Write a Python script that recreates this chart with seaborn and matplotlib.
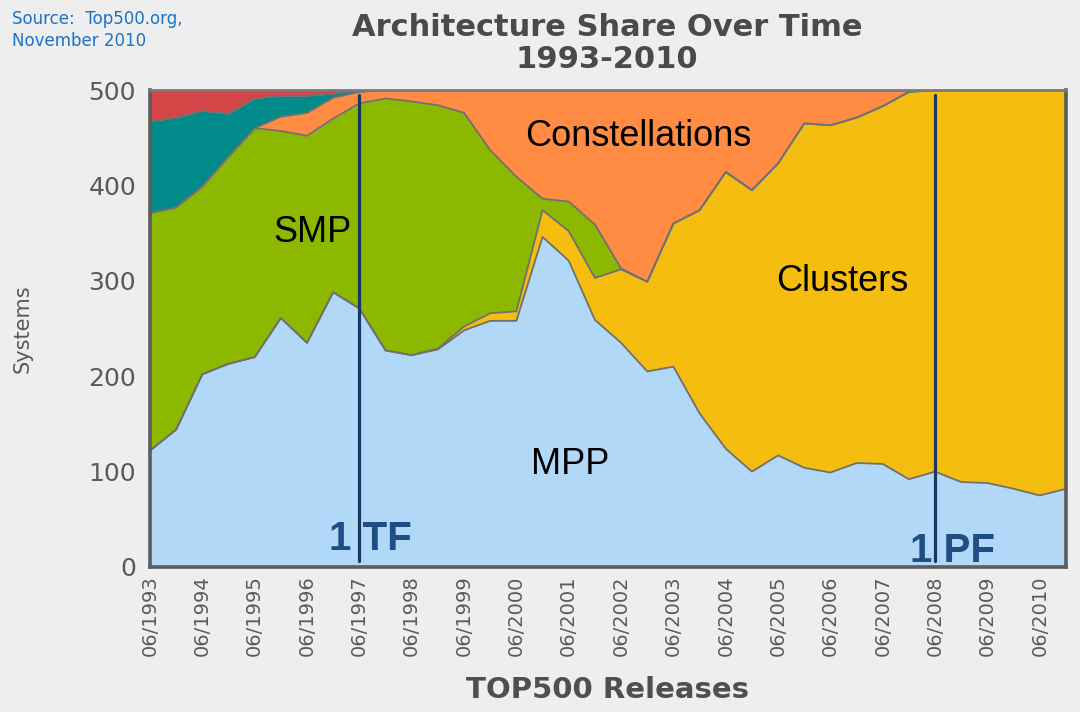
import numpy as np
import pandas as pd
import matplotlib
matplotlib.use("Agg")
import matplotlib.pyplot as plt
import seaborn as sns

# ---- data (TOP500 releases, June & November 1993-2010) ----
releases = ["06/1993", "11/1993", "06/1994", "11/1994", "06/1995", "11/1995",
            "06/1996", "11/1996", "06/1997", "11/1997", "06/1998", "11/1998",
            "06/1999", "11/1999", "06/2000", "11/2000", "06/2001", "11/2001",
            "06/2002", "11/2002", "06/2003", "11/2003", "06/2004", "11/2004",
            "06/2005", "11/2005", "06/2006", "11/2006", "06/2007", "11/2007",
            "06/2008", "11/2008", "06/2009", "11/2009", "06/2010", "11/2010"]
tick_labels = ["06/1993", "06/1994", "06/1995", "06/1996", "06/1997", "06/1998",
               "06/1999", "06/2000", "06/2001", "06/2002", "06/2003", "06/2004",
               "06/2005", "06/2006", "06/2007", "06/2008", "06/2009", "06/2010"]

mpp = [122, 144, 202, 213, 220, 261, 235, 288, 271, 227, 222, 228, 248, 258, 258, 346,
       321, 259, 235, 205, 210, 161, 124, 100, 117, 104, 99, 109, 108, 92, 100, 89,
       88, 82, 75, 82]
clusters = [0, 0, 0, 0, 0, 0, 0, 0, 0, 0, 0, 1, 4, 8, 10, 28,
            31, 44, 77, 94, 150, 213, 290, 295, 306, 361, 364, 362, 375, 406, 400, 411,
            412, 418, 425, 418]
smp = [249, 233, 197, 217, 240, 196, 217, 182, 215, 264, 266, 255, 224, 171, 141, 12,
       31, 56, 1, 0, 0, 0, 0, 0, 0, 0, 0, 0, 0, 0, 0, 0,
       0, 0, 0, 0]
constellations = [0, 0, 0, 0, 0, 15, 24, 22, 12, 9, 12, 16, 24, 63, 91, 114,
                  117, 141, 187, 201, 140, 126, 86, 105, 77, 35, 37, 29, 17, 2, 0, 0,
                  0, 0, 0, 0]
simd = [96, 94, 79, 45, 31, 22, 18, 4, 2, 0, 0, 0, 0, 0, 0, 0,
        0, 0, 0, 0, 0, 0, 0, 0, 0, 0, 0, 0, 0, 0, 0, 0,
        0, 0, 0, 0]
single_proc = [33, 29, 22, 25, 9, 6, 6, 4, 0, 0, 0, 0, 0, 0, 0, 0,
               0, 0, 0, 0, 0, 0, 0, 0, 0, 0, 0, 0, 0, 0, 0, 0,
               0, 0, 0, 0]

series_names = ["MPP", "Clusters", "SMP", "Constellations", "SIMD", "Single Processor"]
series_colors = ["#B1D8F6", "#F5BD10", "#8DB800", "#FF8C42", "#008A8A", "#D54548"]
milestones = {"1 TF": "06/1997", "1 PF": "06/2008"}

# ---- build frame ----
df = pd.DataFrame({"release": releases, "MPP": mpp, "Clusters": clusters, "SMP": smp,
                   "Constellations": constellations, "SIMD": simd,
                   "Single Processor": single_proc})
df["idx"] = np.arange(len(df))
cum = df[series_names].cumsum(axis=1)
cum["idx"] = df["idx"]
long = cum.melt(id_vars="idx", var_name="arch", value_name="top")

sns.set_theme(style="white")
plt.rcParams["font.family"] = ["DejaVu Sans"]

fig = plt.figure(figsize=(10.8, 7.12), dpi=100)
fig.patch.set_facecolor("#EEEEEE")
ax = fig.add_axes([150 / 1080, 1 - 567 / 712, 916 / 1080, 477 / 712])

ax.stackplot(df["idx"], *[df[n] for n in series_names], colors=series_colors,
             linewidth=0, zorder=1)
sns.lineplot(data=long, x="idx", y="top", units="arch", estimator=None,
             color="#707070", linewidth=1.3, ax=ax, zorder=2, legend=False)

# milestone lines
line_col = "#1B3764"
for lab, rel in milestones.items():
    xi = releases.index(rel)
    ax.plot([xi, xi], [6, 495], color=line_col, linewidth=2.3, zorder=4)

ax.text(releases.index("06/1997") - 1.15, 18, "1 TF", fontsize=29, fontweight="bold",
        color="#1F4E85", family="Liberation Sans", ha="left", va="baseline", zorder=3)
ax.text(releases.index("06/2008") - 0.95, 5, "1 PF", fontsize=29, fontweight="bold",
        color="#1F4E85", family="Liberation Sans", ha="left", va="baseline", zorder=3)

# area labels
lab_kw = dict(fontsize=26, color="black", family="Liberation Sans", ha="center",
              va="center", zorder=3)
ax.text(6.2, 351, "SMP", **lab_kw)
ax.text(18.65, 451, "Constellations", **lab_kw)
ax.text(26.45, 299, "Clusters", **lab_kw)
ax.text(16.05, 107, "MPP", **lab_kw)

ax.set_xlim(0, len(releases) - 1)
ax.set_ylim(0, 500)
ax.set_xticks([releases.index(t) for t in tick_labels])
ax.set_xticklabels(tick_labels, rotation=90, fontsize=14, color="#5A5A5A")
ax.set_yticks([0, 100, 200, 300, 400, 500])
ax.set_yticklabels(["0", "100", "200", "300", "400", "500"], fontsize=18, color="#5A5A5A")
ax.tick_params(axis="both", length=0)
ax.tick_params(axis="x", pad=6)
ax.tick_params(axis="y", pad=10)
ax.set_xlabel("TOP500 Releases", fontsize=21, fontweight="bold", color="#4F4F4F",
              labelpad=14)
ax.set_ylabel("Systems", fontsize=15, color="#5A5A5A", labelpad=14)
ax.yaxis.set_label_coords(-0.128, 0.5)

for side, sp in ax.spines.items():
    sp.set_visible(True)
    sp.set_color("#5C5C5C")
    sp.set_linewidth(2.6)
    sp.set_zorder(5)
ax.spines["top"].set_color("#7A7A7A")
ax.spines["top"].set_linewidth(2)

# titles and source
fig.text(607 / 1080, 1 - 28 / 712, "Architecture Share Over Time", fontsize=22,
         fontweight="bold", color="#4A4A4A", ha="center", va="center")
fig.text(607 / 1080, 1 - 59 / 712, "1993-2010", fontsize=22, fontweight="bold",
         color="#4A4A4A", ha="center", va="center")
fig.text(12 / 1080, 1 - 10 / 712, "Source:  Top500.org,\nNovember 2010", fontsize=12,
         color="#1B73C8", ha="left", va="top", linespacing=1.25)

fig.savefig("out.png", dpi=100, facecolor=fig.get_facecolor())
